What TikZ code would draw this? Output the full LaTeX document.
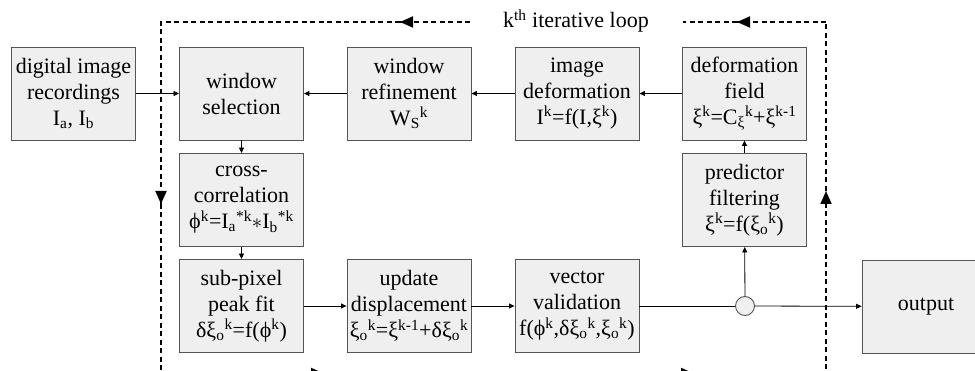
\documentclass[tikz,border=0pt]{standalone}
\usepackage{fontspec}
\setmainfont{Liberation Serif}
\usetikzlibrary{arrows.meta}
\newcommand\lsub[1]{\textsubscript{#1}}
\newcommand\lsup[1]{\textsuperscript{#1}}
\definecolor{boxfill}{HTML}{EFEFEF}
\definecolor{boxline}{HTML}{555555}
\tikzset{
  stage/.style={draw=boxline, fill=boxfill, line width=0.9pt, minimum width=124pt,
    minimum height=93pt, inner sep=0pt, align=center,
    font=\fontsize{22}{26}\selectfont},
  flow/.style={line width=0.8pt, -{Triangle[length=5.5pt,width=5pt]}},
  plain/.style={line width=0.8pt},
  loopline/.style={line width=1.8pt, dash pattern=on 5pt off 3.5pt},
  looptip/.style={line width=1.8pt, -{Triangle[length=13pt,width=11pt]}}
}
\begin{document}
\begin{tikzpicture}[x=1pt,y=1pt]
\useasboundingbox (0,0) rectangle (975,-371);

% processing stages
\node[stage] (rec)  at (73.5,-93.5)  {digital image\\recordings\\I\lsub{a}, I\lsub{b}};
\node[stage] (sel)  at (241.5,-93.5) {window\\selection};
\node[stage] (ref)  at (409,-93.5)   {window\\refinement\\W\lsub{S}\lsup{k}};
\node[stage] (def)  at (577,-93.5)   {image\\deformation\\I\lsup{k}=f(I,ξ\lsup{k})};
\node[stage] (fld)  at (744.5,-93.5) {deformation\\field\\ξ\lsup{k}=C\lsub{ξ}\lsup{k}+ξ\lsup{k-1}};
\node[stage] (xc)   at (241.5,-200)  {cross-\\correlation\\ϕ\lsup{k}=I\lsub{a}\lsup{*k}$\ast$I\lsub{b}\lsup{*k}};
\node[stage] (pred) at (744.5,-200)  {predictor\\filtering\\ξ\lsup{k}=f(ξ\lsub{o}\lsup{k})};
\node[stage] (fit)  at (241.5,-306)  {sub-pixel\\peak fit\\δξ\lsub{o}\lsup{k}=f(ϕ\lsup{k})};
\node[stage] (upd)  at (409,-306)    {update\\displacement\\ξ\lsub{o}\lsup{k}=ξ\lsup{k-1}+δξ\lsub{o}\lsup{k}};
\node[stage] (val)  at (577,-306)    {vector\\validation\\f(ϕ\lsup{k},δξ\lsub{o}\lsup{k},ξ\lsub{o}\lsup{k})};
\node[stage, minimum width=128pt] (out) at (926,-306.5) {output};
\node[circle, draw=boxline, fill=boxfill, line width=0.9pt, minimum size=19pt, inner sep=0pt] (split) at (745,-306) {};

% data flow
\draw[flow] (rec) -- (sel);
\draw[flow] (ref) -- (sel);
\draw[flow] (def) -- (ref);
\draw[flow] (fld) -- (def);
\draw[flow] (sel) -- (xc);
\draw[flow] (xc) -- (fit);
\draw[flow] (fit) -- (upd);
\draw[flow] (upd) -- (val);
\draw[plain] (val) -- (split);
\draw[flow] (split) -- (out);
\draw[flow] (split) -- (pred);
\draw[flow] (pred) -- (fld);

% iterative loop
\coordinate (tl) at (161,-22);
\coordinate (tr) at (826,-22);
\coordinate (bl) at (161,-373.5);
\coordinate (br) at (826,-373.5);
\coordinate (ta) at (737,-22);
\coordinate (tgapr) at (683,-22);
\coordinate (tgapl) at (470,-22);
\coordinate (tb) at (400,-22);
\coordinate (la) at (161,-204);
\coordinate (ba) at (324,-373.5);
\coordinate (bb) at (694,-373.5);
\coordinate (ra) at (826,-191);

\draw[loopline] (tr) -- (ta);
\draw[looptip] (ta) ++(8,0) -- (ta);
\draw[loopline] (ta) -- (tgapr);
\draw[loopline] (tgapl) -- (tb);
\draw[looptip] (tb) ++(8,0) -- (tb);
\draw[loopline] (tb) -- (tl) -- (la);
\draw[looptip] (la) ++(0,8) -- (la);
\draw[loopline] (la) -- (bl) -- (ba);
\draw[looptip] (ba) ++(-8,0) -- (ba);
\draw[loopline] (ba) -- (bb);
\draw[looptip] (bb) ++(-8,0) -- (bb);
\draw[loopline] (bb) -- (br) -- (ra);
\draw[looptip] (ra) ++(0,-8) -- (ra);
\draw[loopline] (ra) -- (tr);

\node[font=\fontsize{22}{26}\selectfont, inner sep=0pt] (looplabel) at (576,-21) {k\lsup{th} iterative loop};
\end{tikzpicture}
\end{document}
